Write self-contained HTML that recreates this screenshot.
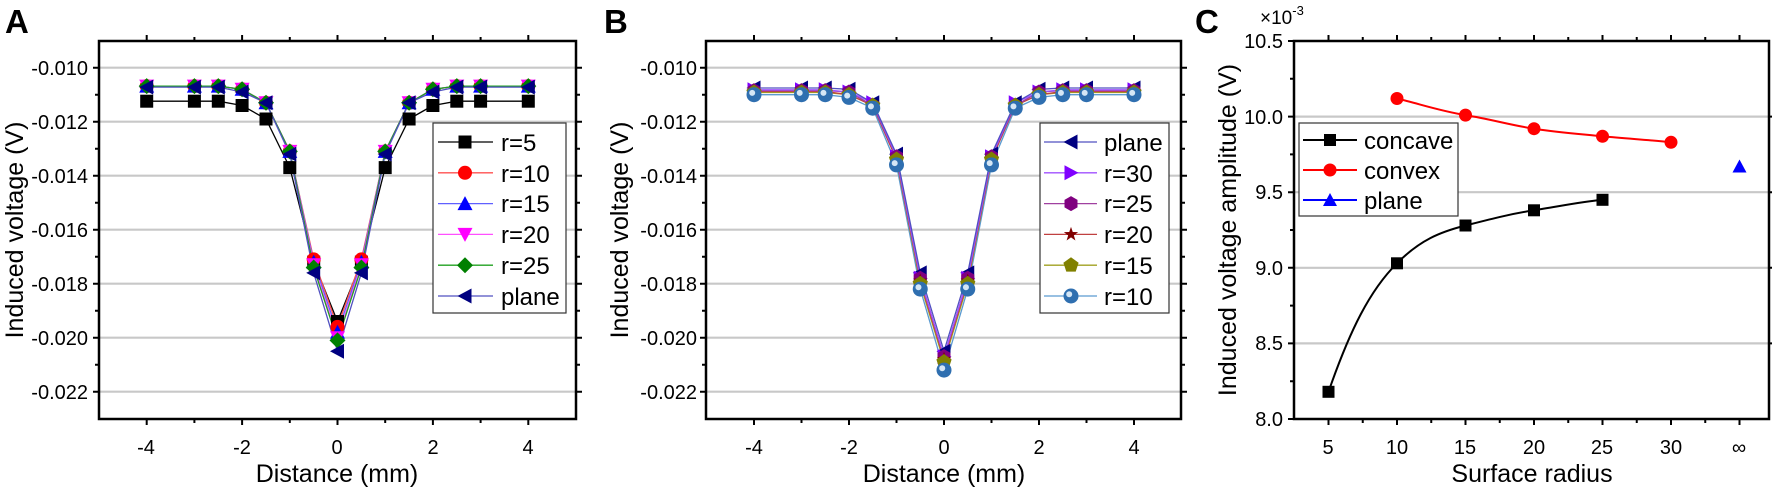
<!DOCTYPE html>
<html><head><meta charset="utf-8"><style>
html,body{margin:0;padding:0;background:#fff;}
svg{display:block;font-family:"Liberation Sans",Arial,sans-serif;}
</style></head><body>
<svg width="1772" height="490" viewBox="0 0 1772 490" xmlns="http://www.w3.org/2000/svg" xmlns:xlink="http://www.w3.org/1999/xlink">
<defs>
<rect id="sq" x="-6.5" y="-6.5" width="13" height="13" fill="#000"/>
<circle id="ci" r="7" fill="#ff0000"/>
<polygon id="up" points="0,-7.5 -7.5,6.5 7.5,6.5" fill="#0000ff"/>
<polygon id="dn" points="0,7.5 -7.5,-6.5 7.5,-6.5" fill="#ff00ff"/>
<polygon id="di" points="0,-8 8,0 0,8 -8,0" fill="#008000"/>
<polygon id="lt" points="-7.5,0 6.5,-7.5 6.5,7.5" fill="#000080"/>
<polygon id="rt" points="7.5,0 -6.5,-7.5 -6.5,7.5" fill="#8000ff"/>
<polygon id="hex" points="6.5,3.75 0,7.5 -6.5,3.75 -6.5,-3.75 0,-7.5 6.5,-3.75" fill="#800080"/>
<polygon id="star" points="0,-7.5 1.76,-2.43 7.13,-2.32 2.85,0.93 4.41,6.07 0,3 -4.41,6.07 -2.85,0.93 -7.13,-2.32 -1.76,-2.43" fill="#800000"/>
<polygon id="pent" points="0,-8 7.61,-2.47 4.7,6.47 -4.7,6.47 -7.61,-2.47" fill="#808000"/>
<g id="ball"><circle r="7.5" fill="#2f6fb0"/><circle cx="-1.8" cy="-1.8" r="3" fill="#d5e6f5"/></g>
<rect id="sqc" x="-6" y="-6" width="12" height="12" fill="#000"/>
<circle id="cic" r="6.5" fill="#ff0000"/>
<polygon id="upc" points="0,-7 -7,6 7,6" fill="#0000ff"/>
</defs>
<rect width="1772" height="490" fill="#fff"/>

<g stroke="#c8c8c8" stroke-width="2.2">
<path d="M99,67.7H576M99,121.7H576M99,175.7H576M99,229.7H576M99,283.7H576M99,337.7H576M99,391.7H576"/>
<path d="M706,67.7H1181M706,121.7H1181M706,175.7H1181M706,229.7H1181M706,283.7H1181M706,337.7H1181M706,391.7H1181"/>
<path d="M1294,116.6H1769M1294,192.2H1769M1294,267.8H1769M1294,343.4H1769"/>
</g>

<g fill="none" stroke-width="1.3" stroke-linejoin="round">
<polyline stroke="#000" points="146.7,101.2 194.4,101.2 218.3,101.2 242.1,105.5 266,119 289.8,167.6 313.7,262.1 337.5,321.5 361.4,262.1 385.2,167.6 409.1,119 432.9,105.5 456.8,101.2 480.6,101.2 528.3,101.2"/>
<polyline stroke="#ff5050" points="146.7,86.1 194.4,86.1 218.3,86.1 242.1,89.3 266,102.8 289.8,151.4 313.7,259.4 337.5,326.9 361.4,259.4 385.2,151.4 409.1,102.8 432.9,89.3 456.8,86.1 480.6,86.1 528.3,86.1"/>
<polyline stroke="#6060ff" points="146.7,86.1 194.4,86.1 218.3,86.1 242.1,89.3 266,102.8 289.8,151.4 313.7,262.1 337.5,332.3 361.4,262.1 385.2,151.4 409.1,102.8 432.9,89.3 456.8,86.1 480.6,86.1 528.3,86.1"/>
<polyline stroke="#ff50ff" points="146.7,86.1 194.4,86.1 218.3,86.1 242.1,89.3 266,102.8 289.8,151.4 313.7,264.8 337.5,337.7 361.4,264.8 385.2,151.4 409.1,102.8 432.9,89.3 456.8,86.1 480.6,86.1 528.3,86.1"/>
<polyline stroke="#20a020" points="146.7,86.1 194.4,86.1 218.3,86.1 242.1,89.3 266,102.8 289.8,151.4 313.7,267.5 337.5,340.4 361.4,267.5 385.2,151.4 409.1,102.8 432.9,89.3 456.8,86.1 480.6,86.1 528.3,86.1"/>
<polyline stroke="#5050c0" points="146.7,87.1 194.4,87.1 218.3,87.1 242.1,92 266,102.8 289.8,154.1 313.7,272.9 337.5,351.2 361.4,272.9 385.2,154.1 409.1,102.8 432.9,92 456.8,87.1 480.6,87.1 528.3,87.1"/>
</g>
<g>
<use href="#sq" x="146.7" y="101.2"/><use href="#sq" x="194.4" y="101.2"/><use href="#sq" x="218.3" y="101.2"/><use href="#sq" x="242.1" y="105.5"/><use href="#sq" x="266" y="119"/><use href="#sq" x="289.8" y="167.6"/><use href="#sq" x="313.7" y="262.1"/><use href="#sq" x="337.5" y="321.5"/><use href="#sq" x="361.4" y="262.1"/><use href="#sq" x="385.2" y="167.6"/><use href="#sq" x="409.1" y="119"/><use href="#sq" x="432.9" y="105.5"/><use href="#sq" x="456.8" y="101.2"/><use href="#sq" x="480.6" y="101.2"/><use href="#sq" x="528.3" y="101.2"/>
<use href="#ci" x="146.7" y="86.1"/><use href="#ci" x="194.4" y="86.1"/><use href="#ci" x="218.3" y="86.1"/><use href="#ci" x="242.1" y="89.3"/><use href="#ci" x="266" y="102.8"/><use href="#ci" x="289.8" y="151.4"/><use href="#ci" x="313.7" y="259.4"/><use href="#ci" x="337.5" y="326.9"/><use href="#ci" x="361.4" y="259.4"/><use href="#ci" x="385.2" y="151.4"/><use href="#ci" x="409.1" y="102.8"/><use href="#ci" x="432.9" y="89.3"/><use href="#ci" x="456.8" y="86.1"/><use href="#ci" x="480.6" y="86.1"/><use href="#ci" x="528.3" y="86.1"/>
<use href="#up" x="146.7" y="86.1"/><use href="#up" x="194.4" y="86.1"/><use href="#up" x="218.3" y="86.1"/><use href="#up" x="242.1" y="89.3"/><use href="#up" x="266" y="102.8"/><use href="#up" x="289.8" y="151.4"/><use href="#up" x="313.7" y="262.1"/><use href="#up" x="337.5" y="332.3"/><use href="#up" x="361.4" y="262.1"/><use href="#up" x="385.2" y="151.4"/><use href="#up" x="409.1" y="102.8"/><use href="#up" x="432.9" y="89.3"/><use href="#up" x="456.8" y="86.1"/><use href="#up" x="480.6" y="86.1"/><use href="#up" x="528.3" y="86.1"/>
<use href="#dn" x="146.7" y="86.1"/><use href="#dn" x="194.4" y="86.1"/><use href="#dn" x="218.3" y="86.1"/><use href="#dn" x="242.1" y="89.3"/><use href="#dn" x="266" y="102.8"/><use href="#dn" x="289.8" y="151.4"/><use href="#dn" x="313.7" y="264.8"/><use href="#dn" x="337.5" y="337.7"/><use href="#dn" x="361.4" y="264.8"/><use href="#dn" x="385.2" y="151.4"/><use href="#dn" x="409.1" y="102.8"/><use href="#dn" x="432.9" y="89.3"/><use href="#dn" x="456.8" y="86.1"/><use href="#dn" x="480.6" y="86.1"/><use href="#dn" x="528.3" y="86.1"/>
<use href="#di" x="146.7" y="86.1"/><use href="#di" x="194.4" y="86.1"/><use href="#di" x="218.3" y="86.1"/><use href="#di" x="242.1" y="89.3"/><use href="#di" x="266" y="102.8"/><use href="#di" x="289.8" y="151.4"/><use href="#di" x="313.7" y="267.5"/><use href="#di" x="337.5" y="340.4"/><use href="#di" x="361.4" y="267.5"/><use href="#di" x="385.2" y="151.4"/><use href="#di" x="409.1" y="102.8"/><use href="#di" x="432.9" y="89.3"/><use href="#di" x="456.8" y="86.1"/><use href="#di" x="480.6" y="86.1"/><use href="#di" x="528.3" y="86.1"/>
<use href="#lt" x="146.7" y="87.1"/><use href="#lt" x="194.4" y="87.1"/><use href="#lt" x="218.3" y="87.1"/><use href="#lt" x="242.1" y="92"/><use href="#lt" x="266" y="102.8"/><use href="#lt" x="289.8" y="154.1"/><use href="#lt" x="313.7" y="272.9"/><use href="#lt" x="337.5" y="351.2"/><use href="#lt" x="361.4" y="272.9"/><use href="#lt" x="385.2" y="154.1"/><use href="#lt" x="409.1" y="102.8"/><use href="#lt" x="432.9" y="92"/><use href="#lt" x="456.8" y="87.1"/><use href="#lt" x="480.6" y="87.1"/><use href="#lt" x="528.3" y="87.1"/>
</g>

<g fill="none" stroke-width="1.3" stroke-linejoin="round">
<polyline stroke="#5a9ad0" points="754,94.7 801.5,94.7 825.25,94.7 849,97.4 872.75,108.2 896.5,164.9 920.25,289.1 944,370.1 967.75,289.1 991.5,164.9 1015.25,108.2 1039,97.4 1062.75,94.7 1086.5,94.7 1134,94.7"/>
<polyline stroke="#a0a020" points="754,92.5 801.5,92.5 825.25,92.5 849,94.7 872.75,105.5 896.5,159.5 920.25,283.7 944,362 967.75,283.7 991.5,159.5 1015.25,105.5 1039,94.7 1062.75,92.5 1086.5,92.5 1134,92.5"/>
<polyline stroke="#c04040" points="754,91.5 801.5,91.5 825.25,91.5 849,94.7 872.75,105.5 896.5,159.5 920.25,281 944,359.3 967.75,281 991.5,159.5 1015.25,105.5 1039,94.7 1062.75,91.5 1086.5,91.5 1134,91.5"/>
<polyline stroke="#a040a0" points="754,90.6 801.5,90.6 825.25,90.6 849,92 872.75,105.5 896.5,156.8 920.25,278.3 944,356.6 967.75,278.3 991.5,156.8 1015.25,105.5 1039,92 1062.75,90.6 1086.5,90.6 1134,90.6"/>
<polyline stroke="#a050ff" points="754,89.8 801.5,89.8 825.25,89.8 849,92 872.75,102.8 896.5,156.8 920.25,278.3 944,356.6 967.75,278.3 991.5,156.8 1015.25,102.8 1039,92 1062.75,89.8 1086.5,89.8 1134,89.8"/>
<polyline stroke="#5050c0" points="754,88 801.5,88 825.25,88 849,89.3 872.75,102.8 896.5,154.1 920.25,272.9 944,351.2 967.75,272.9 991.5,154.1 1015.25,102.8 1039,89.3 1062.75,88 1086.5,88 1134,88"/>
</g>
<g>
<use href="#lt" x="754" y="88"/><use href="#lt" x="801.5" y="88"/><use href="#lt" x="825.25" y="88"/><use href="#lt" x="849" y="89.3"/><use href="#lt" x="872.75" y="102.8"/><use href="#lt" x="896.5" y="154.1"/><use href="#lt" x="920.25" y="272.9"/><use href="#lt" x="944" y="351.2"/><use href="#lt" x="967.75" y="272.9"/><use href="#lt" x="991.5" y="154.1"/><use href="#lt" x="1015.25" y="102.8"/><use href="#lt" x="1039" y="89.3"/><use href="#lt" x="1062.75" y="88"/><use href="#lt" x="1086.5" y="88"/><use href="#lt" x="1134" y="88"/>
<use href="#rt" x="754" y="89.8"/><use href="#rt" x="801.5" y="89.8"/><use href="#rt" x="825.25" y="89.8"/><use href="#rt" x="849" y="92"/><use href="#rt" x="872.75" y="102.8"/><use href="#rt" x="896.5" y="156.8"/><use href="#rt" x="920.25" y="278.3"/><use href="#rt" x="944" y="356.6"/><use href="#rt" x="967.75" y="278.3"/><use href="#rt" x="991.5" y="156.8"/><use href="#rt" x="1015.25" y="102.8"/><use href="#rt" x="1039" y="92"/><use href="#rt" x="1062.75" y="89.8"/><use href="#rt" x="1086.5" y="89.8"/><use href="#rt" x="1134" y="89.8"/>
<use href="#hex" x="754" y="90.6"/><use href="#hex" x="801.5" y="90.6"/><use href="#hex" x="825.25" y="90.6"/><use href="#hex" x="849" y="92"/><use href="#hex" x="872.75" y="105.5"/><use href="#hex" x="896.5" y="156.8"/><use href="#hex" x="920.25" y="278.3"/><use href="#hex" x="944" y="356.6"/><use href="#hex" x="967.75" y="278.3"/><use href="#hex" x="991.5" y="156.8"/><use href="#hex" x="1015.25" y="105.5"/><use href="#hex" x="1039" y="92"/><use href="#hex" x="1062.75" y="90.6"/><use href="#hex" x="1086.5" y="90.6"/><use href="#hex" x="1134" y="90.6"/>
<use href="#star" x="754" y="91.5"/><use href="#star" x="801.5" y="91.5"/><use href="#star" x="825.25" y="91.5"/><use href="#star" x="849" y="94.7"/><use href="#star" x="872.75" y="105.5"/><use href="#star" x="896.5" y="159.5"/><use href="#star" x="920.25" y="281"/><use href="#star" x="944" y="359.3"/><use href="#star" x="967.75" y="281"/><use href="#star" x="991.5" y="159.5"/><use href="#star" x="1015.25" y="105.5"/><use href="#star" x="1039" y="94.7"/><use href="#star" x="1062.75" y="91.5"/><use href="#star" x="1086.5" y="91.5"/><use href="#star" x="1134" y="91.5"/>
<use href="#pent" x="754" y="92.5"/><use href="#pent" x="801.5" y="92.5"/><use href="#pent" x="825.25" y="92.5"/><use href="#pent" x="849" y="94.7"/><use href="#pent" x="872.75" y="105.5"/><use href="#pent" x="896.5" y="159.5"/><use href="#pent" x="920.25" y="283.7"/><use href="#pent" x="944" y="362"/><use href="#pent" x="967.75" y="283.7"/><use href="#pent" x="991.5" y="159.5"/><use href="#pent" x="1015.25" y="105.5"/><use href="#pent" x="1039" y="94.7"/><use href="#pent" x="1062.75" y="92.5"/><use href="#pent" x="1086.5" y="92.5"/><use href="#pent" x="1134" y="92.5"/>
<use href="#ball" x="754" y="94.7"/><use href="#ball" x="801.5" y="94.7"/><use href="#ball" x="825.25" y="94.7"/><use href="#ball" x="849" y="97.4"/><use href="#ball" x="872.75" y="108.2"/><use href="#ball" x="896.5" y="164.9"/><use href="#ball" x="920.25" y="289.1"/><use href="#ball" x="944" y="370.1"/><use href="#ball" x="967.75" y="289.1"/><use href="#ball" x="991.5" y="164.9"/><use href="#ball" x="1015.25" y="108.2"/><use href="#ball" x="1039" y="97.4"/><use href="#ball" x="1062.75" y="94.7"/><use href="#ball" x="1086.5" y="94.7"/><use href="#ball" x="1134" y="94.7"/>
</g>

<path fill="none" stroke="#000" stroke-width="2" d="M1328.5,391.8 C1350,330 1370,290 1397,263.3 C1420,240 1440,232 1465.5,225.5 S1510,214 1534,210.3 S1580,202 1602.5,199.8"/>
<path fill="none" stroke="#ff0000" stroke-width="2" d="M1397,98.5 C1420,104 1440,111 1465.5,115.1 S1510,125 1534,128.7 S1580,134 1602.5,136.3 S1650,140 1671,142.3"/>
<use href="#sqc" x="1328.5" y="391.8"/><use href="#sqc" x="1397" y="263.3"/><use href="#sqc" x="1465.5" y="225.5"/><use href="#sqc" x="1534" y="210.3"/><use href="#sqc" x="1602.5" y="199.8"/>
<use href="#cic" x="1397" y="98.5"/><use href="#cic" x="1465.5" y="115.1"/><use href="#cic" x="1534" y="128.7"/><use href="#cic" x="1602.5" y="136.3"/><use href="#cic" x="1671" y="142.3"/>
<use href="#upc" x="1739.5" y="166.5"/>

<g fill="none" stroke="#000" stroke-width="2.5">
<rect x="99" y="41" width="477" height="378"/>
<rect x="706" y="41" width="475" height="378"/>
<rect x="1294" y="41" width="475" height="378"/>
</g>
<g stroke="#000" stroke-width="2" fill="none">
<path d="M146.7,419v6M242.1,419v6M337.5,419v6M432.9,419v6M528.3,419v6M146.7,41v-6M242.1,41v-6M337.5,41v-6M432.9,41v-6M528.3,41v-6"/>
<path d="M194.4,419v4M289.8,419v4M385.2,419v4M480.6,419v4M194.4,41v-4M289.8,41v-4M385.2,41v-4M480.6,41v-4"/>
<path d="M99,67.7h-6M99,121.7h-6M99,175.7h-6M99,229.7h-6M99,283.7h-6M99,337.7h-6M99,391.7h-6M576,67.7h6M576,121.7h6M576,175.7h6M576,229.7h6M576,283.7h6M576,337.7h6M576,391.7h6"/>
<path d="M99,94.7h-4M99,148.7h-4M99,202.7h-4M99,256.7h-4M99,310.7h-4M99,364.7h-4M576,94.7h4M576,148.7h4M576,202.7h4M576,256.7h4M576,310.7h4M576,364.7h4"/>
<path d="M754,419v6M849,419v6M944,419v6M1039,419v6M1134,419v6M754,41v-6M849,41v-6M944,41v-6M1039,41v-6M1134,41v-6"/>
<path d="M801.5,419v4M896.5,419v4M991.5,419v4M1086.5,419v4M801.5,41v-4M896.5,41v-4M991.5,41v-4M1086.5,41v-4"/>
<path d="M706,67.7h-6M706,121.7h-6M706,175.7h-6M706,229.7h-6M706,283.7h-6M706,337.7h-6M706,391.7h-6M1181,67.7h6M1181,121.7h6M1181,175.7h6M1181,229.7h6M1181,283.7h6M1181,337.7h6M1181,391.7h6"/>
<path d="M706,94.7h-4M706,148.7h-4M706,202.7h-4M706,256.7h-4M706,310.7h-4M706,364.7h-4M1181,94.7h4M1181,148.7h4M1181,202.7h4M1181,256.7h4M1181,310.7h4M1181,364.7h4"/>
<path d="M1328.5,419v6M1397,419v6M1465.5,419v6M1534,419v6M1602.5,419v6M1671,419v6M1739.5,419v6M1328.5,41v-6M1397,41v-6M1465.5,41v-6M1534,41v-6M1602.5,41v-6M1671,41v-6M1739.5,41v-6"/>
<path d="M1362.75,419v4M1431.25,419v4M1499.75,419v4M1568.25,419v4M1636.75,419v4M1705.25,419v4M1362.75,41v-4M1431.25,41v-4M1499.75,41v-4M1568.25,41v-4M1636.75,41v-4M1705.25,41v-4"/>
<path d="M1294,41h-6M1294,116.6h-6M1294,192.2h-6M1294,267.8h-6M1294,343.4h-6M1294,419h-6M1769,116.6h3M1769,192.2h3M1769,267.8h3M1769,343.4h3"/>
<path d="M1294,78.8h-4M1294,154.4h-4M1294,230h-4M1294,305.6h-4M1294,381.2h-4"/>
</g>

<text x="5" y="33" font-size="33" font-weight="bold">A</text>
<text x="604" y="33" font-size="33" font-weight="bold">B</text>
<text x="1195" y="33" font-size="33" font-weight="bold">C</text>
<g font-size="20" text-anchor="end">
<text x="88" y="75">-0.010</text><text x="88" y="129">-0.012</text><text x="88" y="183">-0.014</text>
<text x="88" y="237">-0.016</text><text x="88" y="291">-0.018</text><text x="88" y="345">-0.020</text><text x="88" y="399">-0.022</text>
<text x="697" y="75">-0.010</text><text x="697" y="129">-0.012</text><text x="697" y="183">-0.014</text>
<text x="697" y="237">-0.016</text><text x="697" y="291">-0.018</text><text x="697" y="345">-0.020</text><text x="697" y="399">-0.022</text>
<text x="1283" y="48">10.5</text><text x="1283" y="124">10.0</text><text x="1283" y="199">9.5</text>
<text x="1283" y="275">9.0</text><text x="1283" y="350">8.5</text><text x="1283" y="426">8.0</text>
</g>
<g font-size="20" text-anchor="middle">
<text x="146" y="454">-4</text><text x="242" y="454">-2</text><text x="337" y="454">0</text><text x="433" y="454">2</text><text x="528" y="454">4</text>
<text x="754" y="454">-4</text><text x="849" y="454">-2</text><text x="944" y="454">0</text><text x="1039" y="454">2</text><text x="1134" y="454">4</text>
<text x="1328" y="454">5</text><text x="1397" y="454">10</text><text x="1465" y="454">15</text><text x="1534" y="454">20</text>
<text x="1602" y="454">25</text><text x="1671" y="454">30</text><text x="1739" y="454">∞</text>
</g>
<g font-size="25" text-anchor="middle">
<text x="337" y="482">Distance (mm)</text>
<text x="944" y="482">Distance (mm)</text>
<text x="1532" y="482">Surface radius</text>
<text transform="translate(23,230) rotate(-90)">Induced voltage (V)</text>
<text transform="translate(628,230) rotate(-90)">Induced voltage (V)</text>
<text transform="translate(1236,230) rotate(-90)">Induced voltage amplitude (V)</text>
</g>
<text x="1260" y="24" font-size="19">×10<tspan font-size="13" dy="-9">-3</tspan></text>

<rect x="433" y="123" width="133" height="190" fill="#fff" stroke="#333" stroke-width="1.2"/>
<g stroke-width="1.3">
<line x1="438" y1="142" x2="493" y2="142" stroke="#000"/><line x1="438" y1="172.8" x2="493" y2="172.8" stroke="#ff5050"/>
<line x1="438" y1="203.6" x2="493" y2="203.6" stroke="#6060ff"/><line x1="438" y1="234.4" x2="493" y2="234.4" stroke="#ff50ff"/>
<line x1="438" y1="265.2" x2="493" y2="265.2" stroke="#20a020"/><line x1="438" y1="296" x2="493" y2="296" stroke="#5050c0"/>
</g>
<use href="#sq" x="465" y="142"/><use href="#ci" x="465" y="172.8"/><use href="#up" x="465" y="203.6"/><use href="#dn" x="465" y="234.4"/><use href="#di" x="465" y="265.2"/><use href="#lt" x="465" y="296"/>

<rect x="1040" y="123" width="129" height="190" fill="#fff" stroke="#333" stroke-width="1.2"/>
<g stroke-width="1.3">
<line x1="1044" y1="142" x2="1097" y2="142" stroke="#5050c0"/><line x1="1044" y1="172.8" x2="1097" y2="172.8" stroke="#a050ff"/>
<line x1="1044" y1="203.6" x2="1097" y2="203.6" stroke="#a040a0"/><line x1="1044" y1="234.4" x2="1097" y2="234.4" stroke="#c04040"/>
<line x1="1044" y1="265.2" x2="1097" y2="265.2" stroke="#a0a020"/><line x1="1044" y1="296" x2="1097" y2="296" stroke="#5a9ad0"/>
</g>
<use href="#lt" x="1071" y="142"/><use href="#rt" x="1071" y="172.8"/><use href="#hex" x="1071" y="203.6"/><use href="#star" x="1071" y="234.4"/><use href="#pent" x="1071" y="265.2"/><use href="#ball" x="1071" y="296"/>

<rect x="1299" y="123" width="159" height="93" fill="#fff" stroke="#333" stroke-width="1.2"/>
<g stroke-width="2">
<line x1="1303" y1="140" x2="1357" y2="140" stroke="#000"/><line x1="1303" y1="170" x2="1357" y2="170" stroke="#ff0000"/><line x1="1303" y1="200" x2="1357" y2="200" stroke="#0000ff"/>
</g>
<use href="#sqc" x="1330" y="140"/><use href="#cic" x="1330" y="170"/><use href="#upc" x="1330" y="200"/>

<g font-size="24">
<text x="501" y="151">r=5</text><text x="501" y="182">r=10</text><text x="501" y="212">r=15</text>
<text x="501" y="243">r=20</text><text x="501" y="274">r=25</text><text x="501" y="305">plane</text>
<text x="1104" y="151">plane</text><text x="1104" y="182">r=30</text><text x="1104" y="212">r=25</text>
<text x="1104" y="243">r=20</text><text x="1104" y="274">r=15</text><text x="1104" y="305">r=10</text>
<text x="1364" y="149">concave</text><text x="1364" y="179">convex</text><text x="1364" y="209">plane</text>
</g>
</svg>
</body></html>
